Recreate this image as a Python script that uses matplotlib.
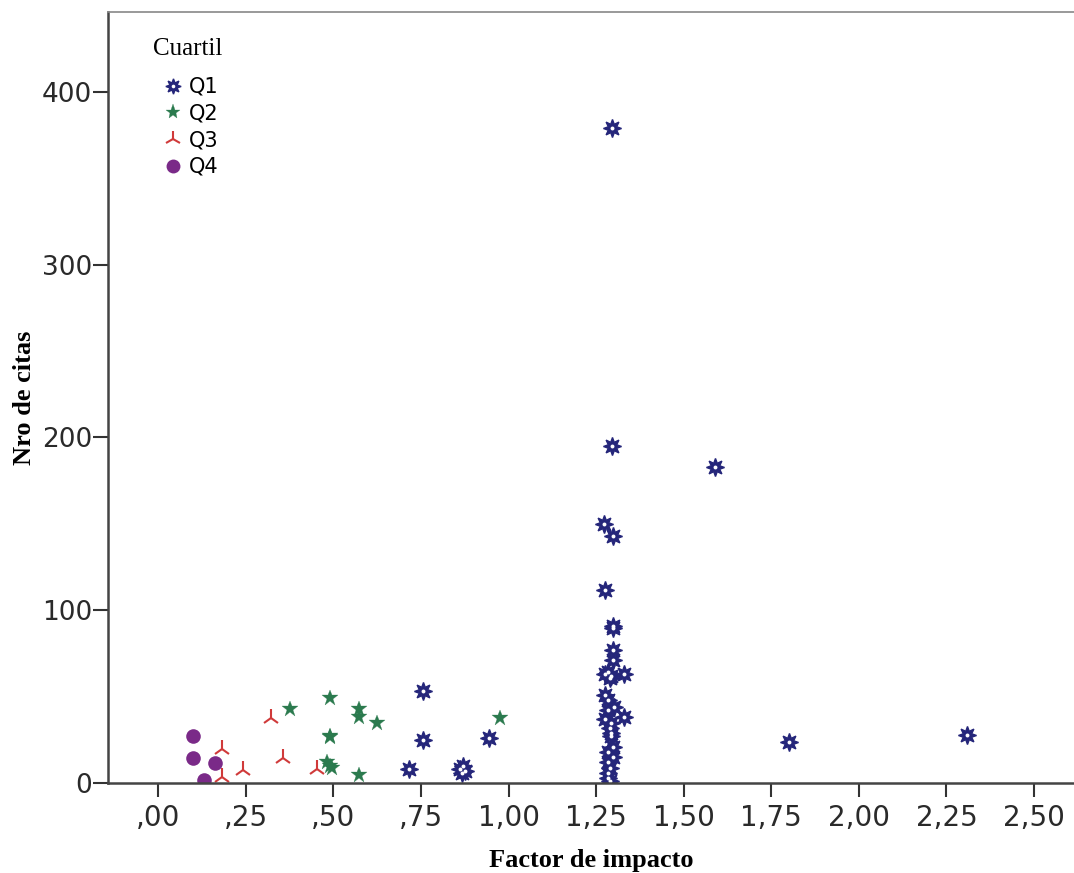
import matplotlib
matplotlib.use("Agg")
import matplotlib.pyplot as plt
from matplotlib.lines import Line2D

# Q1 (factor de impacto, nro de citas)
q1_x = [1.296, 1.296, 1.588, 1.273, 1.299, 1.276, 1.299, 1.299,
        1.299, 1.299, 1.284, 1.276, 1.293, 1.330, 1.290,
        1.276, 1.284, 1.301, 1.284, 1.330, 1.276, 1.293, 1.290, 1.293, 1.293,
        1.299, 1.284, 1.299, 1.284, 1.290, 1.284, 1.284, 1.290,
        0.755, 0.755, 0.715, 0.862, 0.870, 0.866, 0.875, 0.944, 1.800, 2.310]
q1_y = [379, 195, 183, 150, 143, 112, 91, 90,
        77, 71, 64, 63, 62, 63, 61,
        51, 48, 44, 42, 38, 37, 35, 32, 29, 27,
        21, 18, 15, 12, 9, 6, 3, 1,
        53, 25, 8, 8, 10, 6, 7, 26, 24, 28]

q2_x = [0.375, 0.490, 0.572, 0.572, 0.624, 0.490, 0.490, 0.483, 0.495, 0.490, 0.572, 0.975]
q2_y = [43, 49.5, 43, 38.5, 35, 27, 26.5, 12, 9, 10, 4.5, 37.5]

q3_x = [0.323, 0.183, 0.355, 0.243, 0.452, 0.183]
q3_y = [37.6, 20, 14.5, 7.5, 8, 3.5]

q4_x = [0.100, 0.100, 0.163, 0.132]
q4_y = [27, 14.5, 11.5, 2]

xticks = [0, 0.25, 0.5, 0.75, 1.0, 1.25, 1.5, 1.75, 2.0, 2.25, 2.5]
xlabels = [",00", ",25", ",50", ",75", "1,00", "1,25", "1,50", "1,75", "2,00", "2,25", "2,50"]
yticks = [0, 100, 200, 300, 400]

navy = "#25267a"
green = "#2b7a4e"
red = "#d03a3a"
purple = "#7a2a88"

narrow = ["Liberation Sans Narrow", "DejaVu Sans"]
serif = ["Liberation Serif", "DejaVu Serif"]

fig = plt.figure(figsize=(10.74, 8.73), dpi=100)
ax = fig.add_axes([0.1006, 0.103, 0.8994, 0.883])

ax.plot(q1_x, q1_y, ls="none", marker=(8, 1, 0), ms=13, color=navy)
ax.plot(q1_x, q1_y, ls="none", marker="o", ms=2.8, color="white", mew=0)
ax.plot(q2_x, q2_y, ls="none", marker="*", ms=12, color=green, mew=0.2)
ax.plot(q3_x, q3_y, ls="none", marker="2", ms=13, color=red, mew=1.5)
ax.plot(q4_x, q4_y, ls="none", marker="o", ms=10.5, color=purple, mew=0)

ax.set_xlim(-0.143, 2.614)
ax.set_ylim(0, 446)

ax.set_xticks(xticks)
ax.set_xticklabels(xlabels, fontfamily=narrow, fontsize=20, color="#2a2a2a")
ax.set_yticks(yticks)
ax.set_yticklabels([str(v) for v in yticks], fontfamily=narrow, fontsize=19, color="#2a2a2a")
ax.tick_params(axis="x", length=10, width=1.5, pad=5, color="#333333")
ax.tick_params(axis="y", length=11, width=1.5, pad=0.5, color="#333333")

for s in ["left", "bottom"]:
    ax.spines[s].set_linewidth(1.8)
    ax.spines[s].set_color("#444444")
ax.spines["top"].set_color("#888888")
ax.spines["top"].set_linewidth(1.2)
ax.spines["right"].set_visible(False)

ax.set_xlabel("Factor de impacto", fontfamily=serif, fontweight="bold", fontsize=19, labelpad=12)
ax.set_ylabel("Nro de citas", fontfamily=serif, fontweight="bold", fontsize=19, labelpad=4)

ax.text(0.047, 0.967, "Cuartil", transform=ax.transAxes, ha="left", va="top",
        fontfamily=serif, fontsize=18)

h1 = (Line2D([], [], ls="none", marker=(8, 1, 0), ms=11, color=navy),
      Line2D([], [], ls="none", marker="o", ms=2.6, color="white", mew=0))
h2 = Line2D([], [], ls="none", marker="*", ms=11, color=green, mew=0.2)
h3 = Line2D([], [], ls="none", marker="2", ms=12, color=red, mew=1.5)
h4 = Line2D([], [], ls="none", marker="o", ms=10, color=purple, mew=0)
leg = ax.legend([h1, h2, h3, h4], ["Q1", "Q2", "Q3", "Q4"],
                loc="upper left", bbox_to_anchor=(0.057, 0.916), frameon=False,
                borderpad=0, borderaxespad=0,
                prop={"family": narrow, "size": 15}, handlelength=0.95,
                handletextpad=0.3, labelspacing=0.32)

fig.savefig("out.png", dpi=100)
